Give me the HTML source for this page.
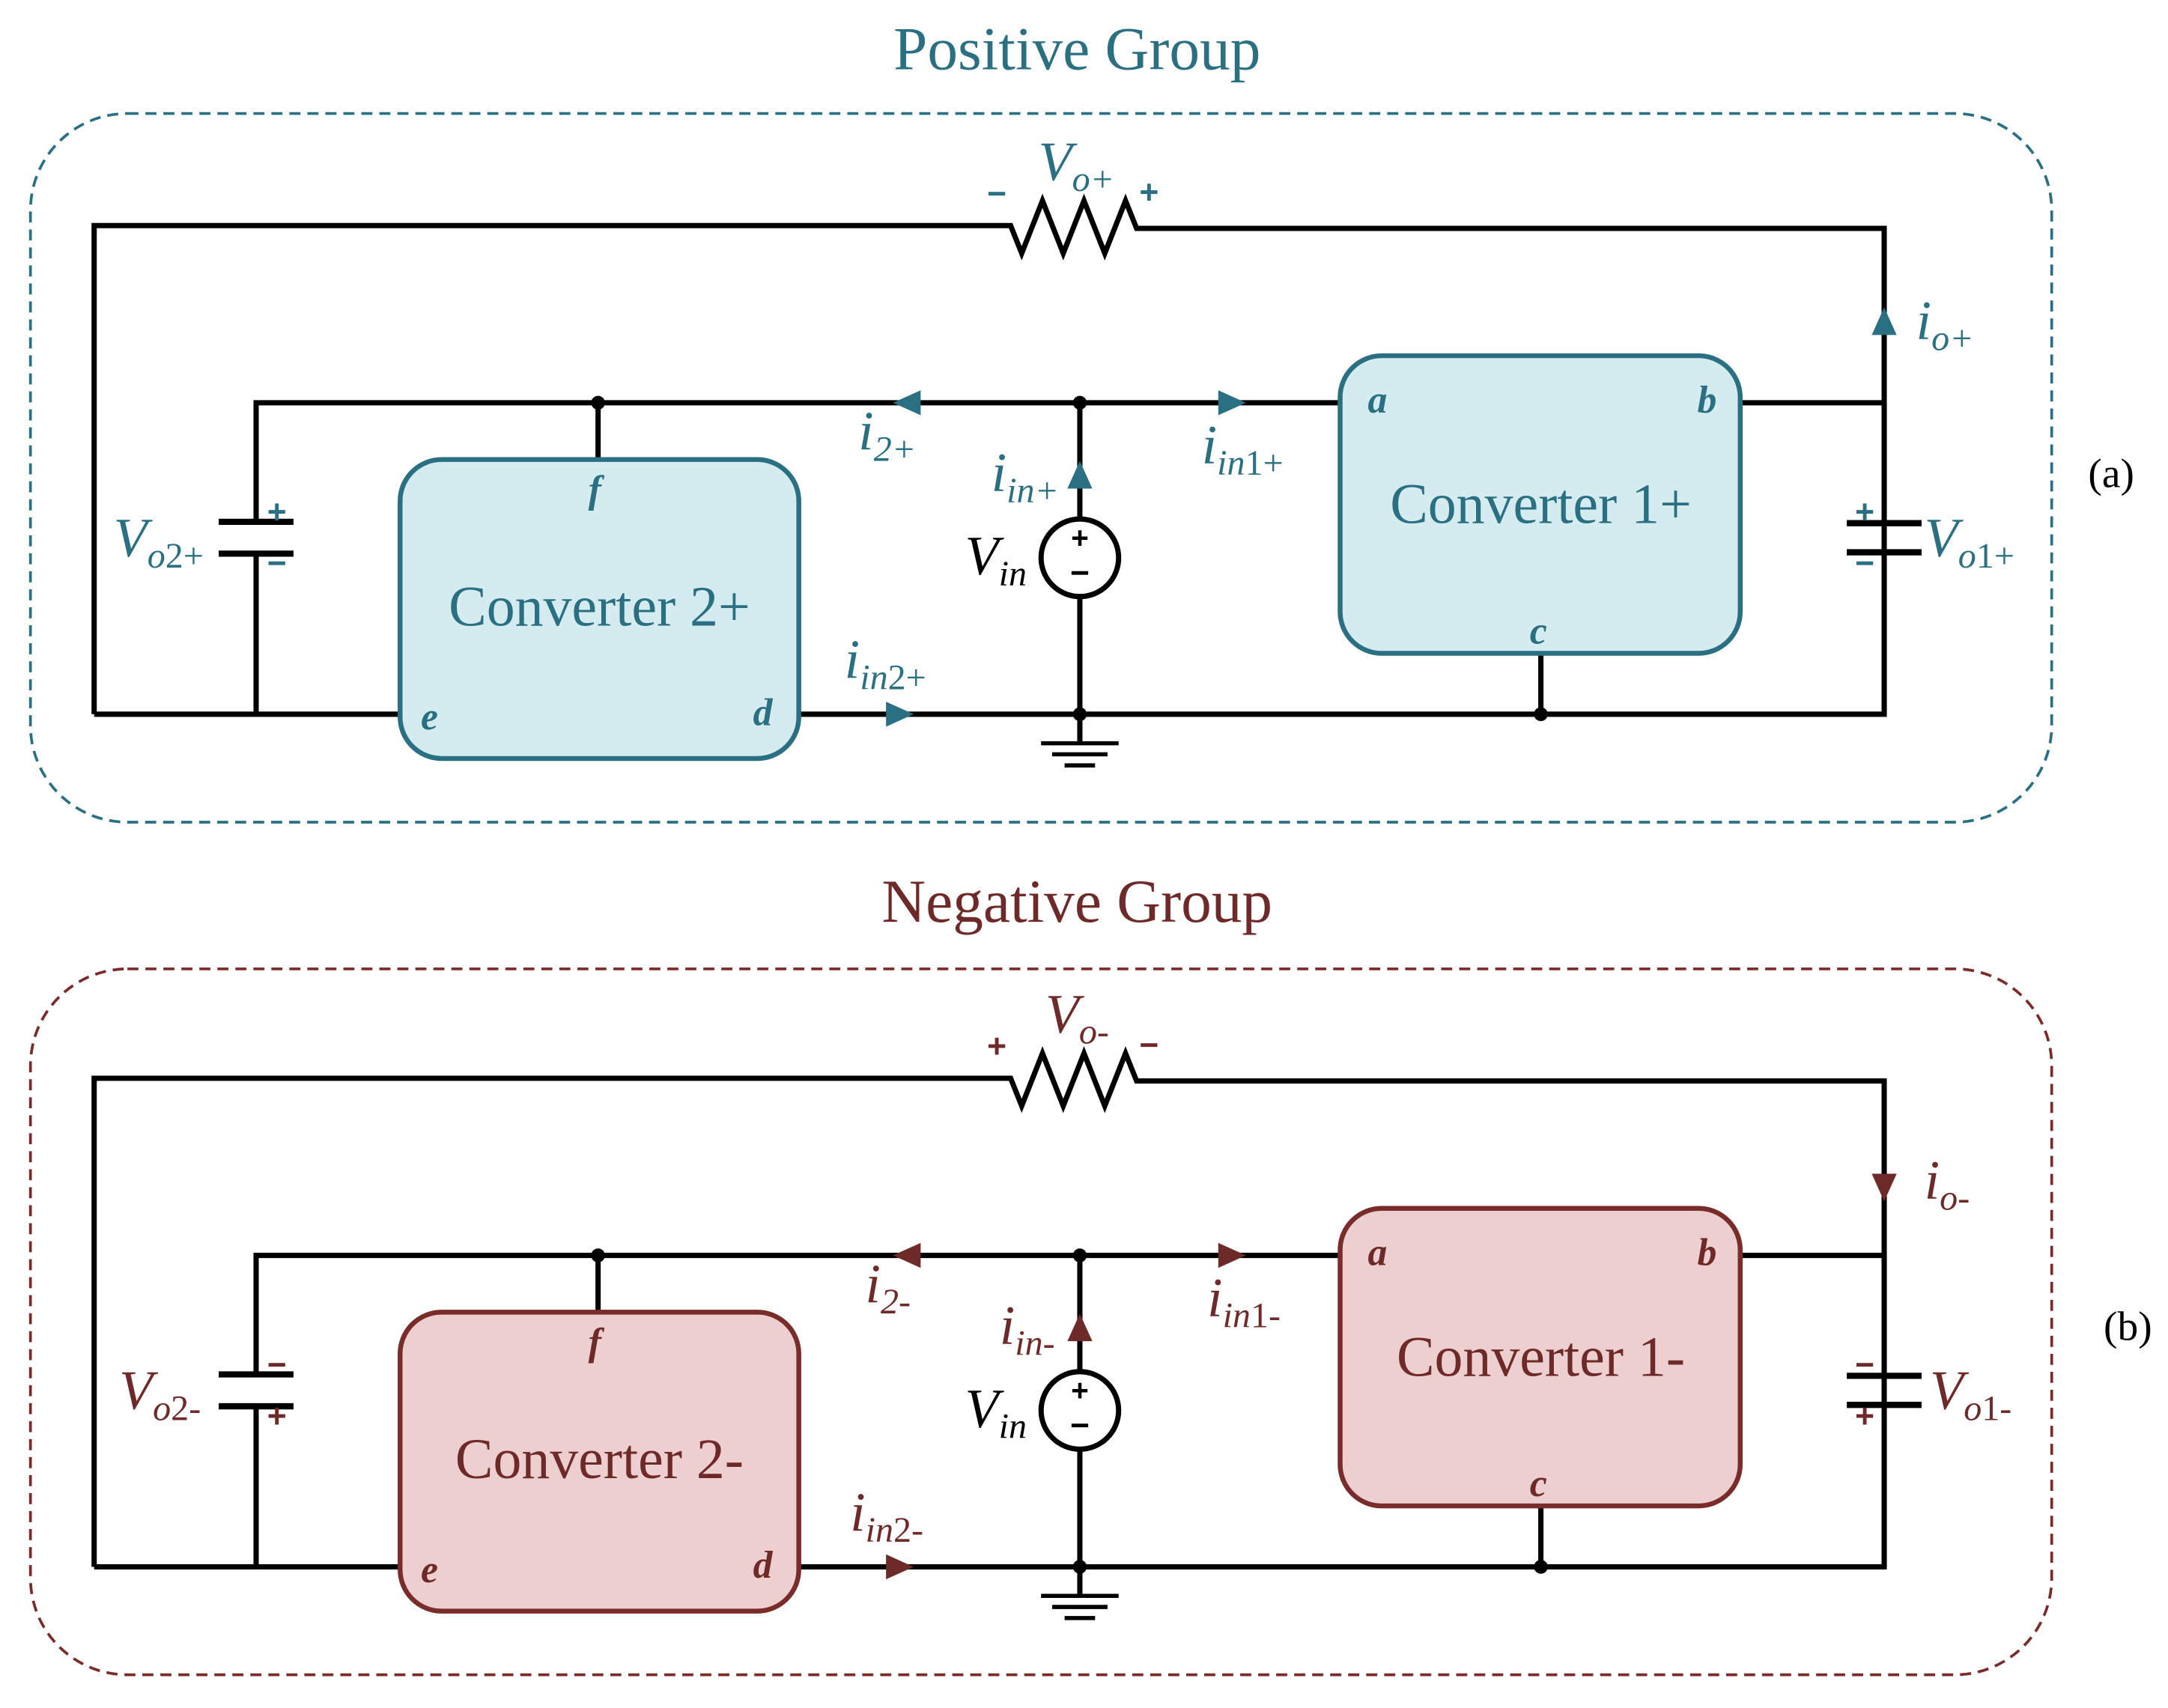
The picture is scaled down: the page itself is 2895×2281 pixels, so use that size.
<!DOCTYPE html>
<html><head><style>html,body{margin:0;padding:0;background:#fff}svg{display:block}</style></head>
<body>
<svg width="2895" height="2281" viewBox="0 0 1566 1234" preserveAspectRatio="none" xmlns="http://www.w3.org/2000/svg" font-family="'Liberation Serif', serif">
<defs>
<g id="circ" fill="none" stroke="#000" stroke-width="3.8">
  <path d="M68 516 V163 H730 l8 20 l15 -38 l15 38 l15 -38 l15 38 l15 -38 l8 20 H1361 V516 H578"/>
  <path d="M289 516 H68"/>
  <path d="M185 516 V400 M185 377 V291 H968 M1258 291 H1361"/>
  <path d="M158 377 H212 M158 400 H212" stroke-width="4.5"/>
  <path d="M1334 378 H1388 M1334 399 H1388" stroke-width="4.5"/>
  <path d="M1361 291 V378 M1361 399 V516"/>
  <path d="M432 291 V332 M1113 472 V516"/>
  <path d="M780 291 V375 M780 431 V516 V537"/>
  <circle cx="780" cy="403" r="28"/>
  <path d="M752 537 H808 M760 545 H800 M769 553 H791" stroke-width="3"/>
  <circle cx="432" cy="291" r="5" fill="#000" stroke="none"/>
  <circle cx="780" cy="291" r="5" fill="#000" stroke="none"/>
  <circle cx="780" cy="516" r="5" fill="#000" stroke="none"/>
  <circle cx="1113" cy="516" r="5" fill="#000" stroke="none"/>
  <text x="780" y="396" font-size="22" font-weight="bold" text-anchor="middle" fill="#000" stroke="none" font-family="'Liberation Sans', sans-serif">+</text>
  <text x="780" y="422" font-size="24" font-weight="bold" text-anchor="middle" fill="#000" stroke="none" font-family="'Liberation Sans', sans-serif">−</text>
</g>
</defs>

<!-- Positive group -->
<text x="778" y="50" font-size="44" text-anchor="middle" fill="#2a7082">Positive Group</text>
<rect x="22" y="82" width="1460" height="512" rx="70" fill="none" stroke="#2a7082" stroke-width="2" stroke-dasharray="8,5"/>
<use href="#circ"/>
<rect x="289" y="332" width="288" height="216" rx="30" fill="#d4ebf0" stroke="#2a7082" stroke-width="3.5"/>
<rect x="968" y="257" width="289" height="215" rx="30" fill="#d4ebf0" stroke="#2a7082" stroke-width="3.5"/>
<g fill="#2a7082">
<text x="433" y="452" font-size="41" text-anchor="middle">Converter 2+</text>
<text x="1113" y="378" font-size="41" text-anchor="middle">Converter 1+</text>
<g font-style="italic" font-weight="bold" font-size="28">
<text x="425" y="363">f</text><text x="304" y="527">e</text><text x="544" y="524">d</text>
<text x="988" y="298">a</text><text x="1226" y="298">b</text><text x="1105" y="465">c</text>
</g>
<path d="M645 291 L665 282 L665 300Z M880 282 L900 291 L880 300Z M771 353 L780 333 L789 353Z M640 507 L660 516 L640 525Z M1352 242 L1361 222 L1370 242Z"/>
<g font-style="italic" font-size="40">
<text x="750" y="130">V<tspan font-size="26" dy="8">o+</tspan></text>
<text x="620" y="325">i<tspan font-size="26" dy="8">2+</tspan></text>
<text x="868" y="335">i<tspan font-size="26" dy="8">in</tspan><tspan font-style="normal" font-size="26">1+</tspan></text>
<text x="716" y="355">i<tspan font-size="26" dy="8">in+</tspan></text>
<text x="610" y="490">i<tspan font-size="26" dy="8">in</tspan><tspan font-style="normal" font-size="26">2+</tspan></text>
<text x="1384" y="245">i<tspan font-size="26" dy="8">o+</tspan></text>
<text x="82" y="402">V<tspan font-size="26" dy="8">o</tspan><tspan font-style="normal" font-size="26">2+</tspan></text>
<text x="1390" y="402">V<tspan font-size="26" dy="8">o</tspan><tspan font-style="normal" font-size="26">1+</tspan></text>
</g>
<g font-family="'Liberation Sans', sans-serif" font-weight="bold" font-size="24" text-anchor="middle">
<text x="720" y="148">−</text><text x="830" y="147">+</text>
<text x="200" y="378">+</text><text x="200" y="415">−</text>
<text x="1347" y="378">+</text><text x="1347" y="415">−</text>
</g>
</g>
<text x="697" y="415" font-size="40" font-style="italic" fill="#000">V<tspan font-size="26" dy="8">in</tspan></text>
<text x="1525" y="352" font-size="30" text-anchor="middle" fill="#000">(a)</text>

<!-- Negative group -->
<g transform="translate(0,616)">
<text x="778" y="50" font-size="44" text-anchor="middle" fill="#6e2a28">Negative Group</text>
<rect x="22" y="84" width="1460" height="510" rx="70" fill="none" stroke="#7a2c2a" stroke-width="2" stroke-dasharray="8,5"/>
<use href="#circ"/>
<rect x="289" y="332" width="288" height="216" rx="30" fill="#eccfce" stroke="#7a2c2a" stroke-width="3.5"/>
<rect x="968" y="257" width="289" height="215" rx="30" fill="#eccfce" stroke="#7a2c2a" stroke-width="3.5"/>
<g fill="#6e2a28">
<text x="433" y="452" font-size="41" text-anchor="middle">Converter 2-</text>
<text x="1113" y="378" font-size="41" text-anchor="middle">Converter 1-</text>
<g font-style="italic" font-weight="bold" font-size="28">
<text x="425" y="363">f</text><text x="304" y="527">e</text><text x="544" y="524">d</text>
<text x="988" y="298">a</text><text x="1226" y="298">b</text><text x="1105" y="465">c</text>
</g>
<path d="M645 291 L665 282 L665 300Z M880 282 L900 291 L880 300Z M771 353 L780 333 L789 353Z M640 507 L660 516 L640 525Z M1352 232 L1361 252 L1370 232Z"/>
<g font-style="italic" font-size="40">
<text x="755" y="130">V<tspan font-size="26" dy="8">o-</tspan></text>
<text x="625" y="325">i<tspan font-size="26" dy="8">2-</tspan></text>
<text x="872" y="335">i<tspan font-size="26" dy="8">in</tspan><tspan font-style="normal" font-size="26">1-</tspan></text>
<text x="722" y="355">i<tspan font-size="26" dy="8">in-</tspan></text>
<text x="614" y="490">i<tspan font-size="26" dy="8">in</tspan><tspan font-style="normal" font-size="26">2-</tspan></text>
<text x="1390" y="250">i<tspan font-size="26" dy="8">o-</tspan></text>
<text x="86" y="402">V<tspan font-size="26" dy="8">o</tspan><tspan font-style="normal" font-size="26">2-</tspan></text>
<text x="1394" y="402">V<tspan font-size="26" dy="8">o</tspan><tspan font-style="normal" font-size="26">1-</tspan></text>
</g>
<g font-family="'Liberation Sans', sans-serif" font-weight="bold" font-size="24" text-anchor="middle">
<text x="720" y="148">+</text><text x="830" y="147">−</text>
<text x="200" y="378">−</text><text x="200" y="415">+</text>
<text x="1347" y="378">−</text><text x="1347" y="415">+</text>
</g>
</g>
<text x="697" y="415" font-size="40" font-style="italic" fill="#000">V<tspan font-size="26" dy="8">in</tspan></text>
<text x="1537" y="352" font-size="30" text-anchor="middle" fill="#000">(b)</text>
</g>
</svg>
</body></html>
